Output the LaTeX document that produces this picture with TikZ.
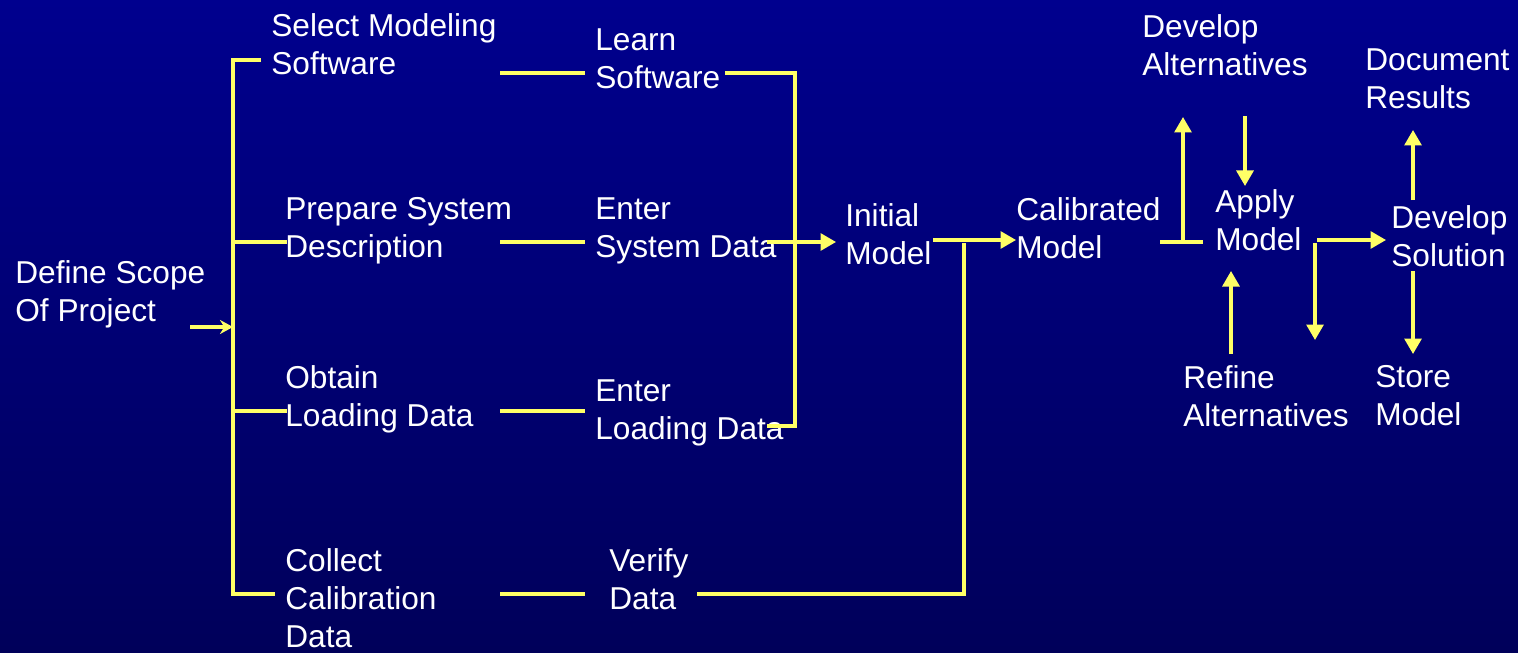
\documentclass[tikz,border=0pt]{standalone}
\usepackage{fontspec}
\setmainfont{Liberation Sans}
\usetikzlibrary{arrows.meta}

\definecolor{slidetop}{RGB}{0,0,142}
\definecolor{slidebot}{RGB}{0,0,90}
\definecolor{lineyellow}{RGB}{255,255,102}

\begin{document}
\begin{tikzpicture}[
    x=0.2mm, y=-0.2mm,
    lbl/.style={anchor=north west, inner sep=0pt, align=left, text=white, font=\fontsize{18}{21.6}\selectfont},
    link/.style={draw=lineyellow, line width=1.8pt},
    arrow/.style={link, -{Triangle[length=3.1mm, width=3.4mm]}},
    thinarrow/.style={link, -{Stealth[length=2.6mm, width=2.8mm]}}
]
    \useasboundingbox (0,0) rectangle (1518,652);
    \shade[top color=slidetop, bottom color=slidebot] (0,0) rectangle (1518,652);

    % tasks
    \node[lbl] (def) at (15,260) {Define Scope\\Of Project};
    \node[lbl] (sel) at (271,13) {Select Modeling\\Software};
    \node[lbl] (prep) at (285,197) {Prepare System\\Description};
    \node[lbl] (obt) at (285,365) {Obtain\\Loading Data};
    \node[lbl] (coll) at (285,548) {Collect\\Calibration\\Data};
    \node[lbl] (learn) at (595,28) {Learn\\Software};
    \node[lbl] (esys) at (595,197) {Enter\\System Data};
    \node[lbl] (eload) at (595,379) {Enter\\Loading Data};
    \node[lbl] (ver) at (609,548) {Verify\\Data};
    \node[lbl] (init) at (845,203) {Initial\\Model};
    \node[lbl] (cal) at (1016,197) {Calibrated\\Model};
    \node[lbl] (dalt) at (1142,14) {Develop\\Alternatives};
    \node[lbl] (apply) at (1215,189) {Apply\\Model};
    \node[lbl] (doc) at (1365,48) {Document\\Results};
    \node[lbl] (dsol) at (1391,205) {Develop\\Solution};
    \node[lbl] (ralt) at (1183,365) {Refine\\Alternatives};
    \node[lbl] (store) at (1375,365) {Store\\Model};

    % bus points
    \coordinate (def-out) at (190,327);
    \coordinate (bus-mid) at (233,327);
    \coordinate (bus-top) at (233,60);
    \coordinate (bus-sys) at (233,242);
    \coordinate (bus-load) at (233,411);
    \coordinate (bus-bot) at (233,594);
    \coordinate (sel-in) at (261,60);
    \coordinate (prep-in) at (287,242);
    \coordinate (obt-in) at (287,411);
    \coordinate (coll-in) at (275,594);

    \coordinate (sel-out) at (500,73);
    \coordinate (learn-in) at (585,73);
    \coordinate (prep-out) at (500,242);
    \coordinate (esys-in) at (585,242);
    \coordinate (obt-out) at (500,411);
    \coordinate (eload-in) at (585,411);
    \coordinate (coll-out) at (500,594);
    \coordinate (ver-in) at (585,594);

    \coordinate (learn-out) at (725,73);
    \coordinate (merge) at (795,73);
    \coordinate (eload-out) at (767,426);
    \coordinate (esys-out) at (767,242);
    \coordinate (init-in) at (836,242);
    \coordinate (init-out) at (933,240);
    \coordinate (cal-in) at (1016,240);
    \coordinate (ver-out) at (697,594);
    \coordinate (ver-up) at (964,243);

    \coordinate (cal-out) at (1160,242);
    \coordinate (cal-end) at (1203,242);
    \coordinate (cal-fork) at (1183,242);
    \coordinate (dalt-in) at (1183,117);
    \coordinate (dalt-out) at (1245,116);
    \coordinate (apply-top) at (1245,186);
    \coordinate (ralt-out) at (1231,354);
    \coordinate (apply-bot) at (1231,271);
    \coordinate (apply-out) at (1317,240);
    \coordinate (dsol-in) at (1386,240);
    \coordinate (apply-fork) at (1315,243);
    \coordinate (ralt-in) at (1315,340);
    \coordinate (dsol-top) at (1413,200);
    \coordinate (doc-in) at (1413,130);
    \coordinate (dsol-bot) at (1413,271);
    \coordinate (store-in) at (1413,354);

    % left tree
    \draw[thinarrow] (def-out) -- (bus-mid);
    \draw[link] (sel-in) -- (bus-top) -- (bus-bot) -- (coll-in);
    \draw[link] (bus-sys) -- (prep-in);
    \draw[link] (bus-load) -- (obt-in);
    \draw[link] (sel-out) -- (learn-in);
    \draw[link] (prep-out) -- (esys-in);
    \draw[link] (obt-out) -- (eload-in);
    \draw[link] (coll-out) -- (ver-in);

    % into the model
    \draw[link] (learn-out) -- (merge) |- (eload-out);
    \draw[arrow] (esys-out) -- (init-in);
    \draw[arrow] (init-out) -- (cal-in);
    \draw[link] (ver-out) -| (ver-up);

    % right side
    \draw[link] (cal-out) -- (cal-end);
    \draw[arrow] (cal-fork) -- (dalt-in);
    \draw[arrow] (dalt-out) -- (apply-top);
    \draw[arrow] (ralt-out) -- (apply-bot);
    \draw[arrow] (apply-out) -- (dsol-in);
    \draw[arrow] (apply-fork) -- (ralt-in);
    \draw[arrow] (dsol-top) -- (doc-in);
    \draw[arrow] (dsol-bot) -- (store-in);
\end{tikzpicture}
\end{document}
